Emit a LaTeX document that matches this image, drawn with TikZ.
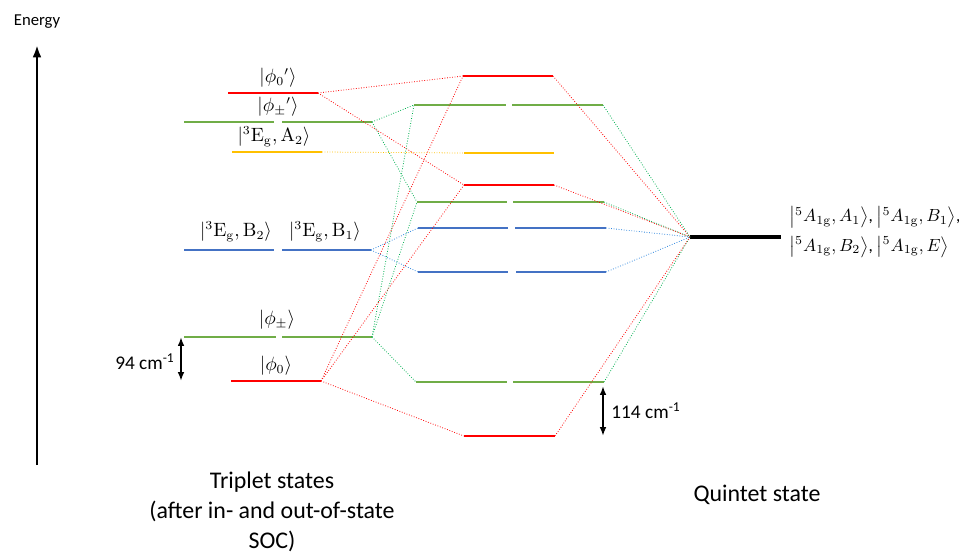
\documentclass[tikz,border=0pt]{standalone}
\usepackage{amsmath}
\usepackage[no-math]{fontspec}
\setmainfont{Carlito}
\usetikzlibrary{arrows.meta}

\definecolor{lvred}{RGB}{255,0,0}
\definecolor{lvgreen}{RGB}{112,173,71}
\definecolor{lkgreen}{RGB}{0,176,80}
\definecolor{lvblue}{RGB}{68,114,196}
\definecolor{lkblue}{RGB}{46,134,222}
\definecolor{lvyellow}{RGB}{255,192,0}

\begin{document}
\begin{tikzpicture}[x=0.02cm, y=-0.02cm, >=Latex,
    level/.style={line width=1.1pt},
    link/.style={densely dotted, line width=0.45pt},
    ket/.style={font=\fontsize{10.5}{13}\selectfont},
    captext/.style={font=\fontsize{13.6}{17}\selectfont, align=center}]
    \useasboundingbox (0,0) rectangle (959,552);

    % energy axis
    \draw[-{Latex[length=7pt,width=5pt]}, line width=1.3pt] (37,465) -- (37,45);
    \node (energy) at (37,22) {\fontsize{9.5}{11}\selectfont Energy};

    % triplet levels
    \draw[level, lvred] (228,93) coordinate (t0pL) -- (318,93) coordinate (t0pR);
    \draw[level, lvgreen] (184,122) coordinate (tpmpL) -- (274,122) (282,122) -- (372,122) coordinate (tpmpR);
    \draw[level, lvyellow] (232,152) coordinate (ta2L) -- (322,152) coordinate (ta2R);
    \draw[level, lvblue] (184,250) coordinate (tbL) -- (274,250) (282,250) -- (371,250) coordinate (tbR);
    \draw[level, lvgreen] (184,337) coordinate (tpmL) -- (276,337) (282,337) -- (372,337) coordinate (tpmR);
    \draw[level, lvred] (231,381) coordinate (t0L) -- (321,381) coordinate (t0R);

    \node[ket] (k0p) at (278,78) {$\lvert\phi_0{}'\rangle$};
    \node[ket] (kpmp) at (278,107) {$\lvert\phi_\pm{}'\rangle$};
    \node[ket] (ka2) at (274,137) {$\left\lvert{}^3\mathrm{E_g},\mathrm{A_2}\right\rangle$};
    \node[ket] (kb2) at (236,232) {$\left\lvert{}^3\mathrm{E_g},\mathrm{B_2}\right\rangle$};
    \node[ket] (kb1) at (325,232) {$\left\lvert{}^3\mathrm{E_g},\mathrm{B_1}\right\rangle$};
    \node[ket] (kpm) at (277,320) {$\lvert\phi_\pm\rangle$};
    \node[ket] (k0) at (276,366) {$\lvert\phi_0\rangle$};

    % splitting of the triplets
    \draw[{Latex[length=5pt]}-{Latex[length=5pt]}, line width=1.2pt] (181,337) coordinate (s94a) -- (181,381) coordinate (s94b);
    \node[font=\fontsize{11}{13}\selectfont] (w94) at (145,362) {94 cm\textsuperscript{-1}};

    % levels after coupling
    \draw[level, lvred] (463,76) coordinate (m1L) -- (553,76) coordinate (m1R);
    \draw[level, lvgreen] (414,105) coordinate (m2L) -- (506,105) (512,105) -- (603,105) coordinate (m2R);
    \draw[level, lvyellow] (464,153) coordinate (m3L) -- (554,153) coordinate (m3R);
    \draw[level, lvred] (464,185) coordinate (m4L) -- (554,185) coordinate (m4R);
    \draw[level, lvgreen] (417,202) coordinate (m5L) -- (507,202) (513,202) -- (604,202) coordinate (m5R);
    \draw[level, lvblue] (418,228) coordinate (m6L) -- (508,228) (515,228) -- (606,228) coordinate (m6R);
    \draw[level, lvblue] (418,272) coordinate (m7L) -- (508,272) (516,272) -- (606,272) coordinate (m7R);
    \draw[level, lvgreen] (416,382) coordinate (m8L) -- (507,382) (513,382) -- (604,382) coordinate (m8R);
    \draw[level, lvred] (464,436) coordinate (m9L) -- (555,436) coordinate (m9R);

    % quintet
    \draw[line width=2.8pt] (690,237) coordinate (qL) -- (781,237) coordinate (qR);
    \node[anchor=west, align=left, inner sep=0pt, font=\fontsize{9.8}{14}\selectfont] (kq) at (789,232)
        {$\left\lvert{}^5A_{1\mathrm{g}},A_1\right\rangle$, $\left\lvert{}^5A_{1\mathrm{g}},B_1\right\rangle$,\\[3pt]
         $\left\lvert{}^5A_{1\mathrm{g}},B_2\right\rangle$, $\left\lvert{}^5A_{1\mathrm{g}},E\right\rangle$};

    % left connectors
    \draw[link, lvred] (t0pR) -- (m1L);
    \draw[link, lvred] (t0pR) -- (m4L);
    \draw[link, lkgreen] (tpmpR) -- (m2L);
    \draw[link, lkgreen] (tpmpR) -- (m5L);
    \draw[link, lvyellow] (ta2R) -- (m3L);
    \draw[link, lkblue] (tbR) -- (m6L);
    \draw[link, lkblue] (tbR) -- (m7L);
    \draw[link, lkgreen] (tpmR) -- (m2L);
    \draw[link, lkgreen] (tpmR) -- (m5L);
    \draw[link, lkgreen] (tpmR) -- (m8L);
    \draw[link, lvred] (t0R) -- (m1L);
    \draw[link, lvred] (t0R) -- (m4L);
    \draw[link, lvred] (t0R) -- (m9L);

    % right connectors
    \draw[link, lvred] (m1R) -- (qL);
    \draw[link, lkgreen] (m2R) -- (qL);
    \draw[link, lvred] (m4R) -- (qL);
    \draw[link, lkgreen] (m5R) -- (qL);
    \draw[link, lkblue] (m6R) -- (qL);
    \draw[link, lkblue] (m7R) -- (qL);
    \draw[link, lkgreen] (m8R) -- (qL);
    \draw[link, lvred] (m9R) -- (qL);

    % splitting of the quintet
    \draw[{Latex[length=5pt]}-{Latex[length=5pt]}, line width=1.2pt] (603,386) coordinate (s114a) -- (603,436) coordinate (s114b);
    \node[font=\fontsize{11}{13}\selectfont] (w114) at (646,411) {114 cm\textsuperscript{-1}};

    % captions
    \node[captext] (trip) at (272,512) {Triplet states\\(after in- and out-of-state\\SOC)};
    \node[captext] (quin) at (757,495) {Quintet state};
\end{tikzpicture}
\end{document}
